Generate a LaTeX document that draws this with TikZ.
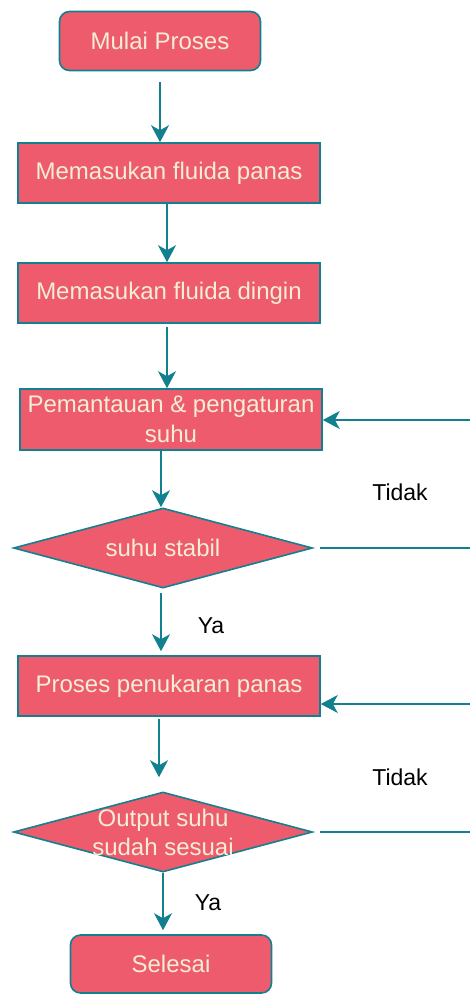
\documentclass[tikz,border=0pt]{standalone}
\usepackage{fontspec}
\setmainfont{Liberation Sans}
\usetikzlibrary{shapes.geometric,arrows.meta,calc}
\definecolor{boxfill}{HTML}{EE5B6D}
\definecolor{edgeteal}{HTML}{13808F}
\definecolor{boxtext}{HTML}{F4EED6}
\tikzset{
  proc/.style={draw=edgeteal, line width=1.6pt, fill=boxfill, text=boxtext,
    minimum width=302pt, minimum height=60pt, inner sep=0pt,
    font=\fontsize{24}{30}\selectfont, align=center},
  term/.style={proc, rounded corners=10pt, minimum width=201pt, minimum height=59pt},
  dec/.style={draw=edgeteal, line width=1.6pt, fill=boxfill, shape=diamond,
    minimum width=299pt, minimum height=80pt, inner sep=0pt},
  dectext/.style={text=boxtext, font=\fontsize{24}{29}\selectfont, align=center},
  conn/.style={draw=edgeteal, line width=1.6pt, -{Stealth[length=17pt,width=18pt,inset=5pt]}},
  plainline/.style={draw=edgeteal, line width=1.6pt},
  lbl/.style={font=\fontsize{23}{27}\selectfont, text=black, inner sep=0pt}
}
\begin{document}
\begin{tikzpicture}[x=1pt,y=-1pt]
\useasboundingbox[fill=white] (0,0) rectangle (470,994);

\node[term] (start) at (160,41) {Mulai Proses};
\node[proc] (panas) at (169,173) {Memasukan fluida panas};
\node[proc] (dingin) at (169,293) {Memasukan fluida dingin};
\node[proc, minimum height=61pt] (pantau) at (171,419.5) {Pemantauan \& pengaturan\\suhu};
\node[dec, label={[dectext]center:suhu stabil}] (d1) at (163,548) {};
\node[proc] (tukar) at (169,686) {Proses penukaran panas};
\node[dec, label={[dectext]center:Output suhu\\sudah sesuai}] (d2) at (163,832) {};
\node[term, minimum height=58pt] (end) at (171,964) {Selesai};

\coordinate (r1) at (472,420);
\coordinate (r2) at (472,548);
\coordinate (r3) at (472,704);
\coordinate (r4) at (472,832);

\node[lbl] (t1) at (400,492) {Tidak};
\node[lbl] (t2) at (400,777) {Tidak};
\node[lbl] (y1) at (211,626) {Ya};
\node[lbl] (y2) at (208,903) {Ya};

\draw[conn, shorten <=11pt] (start.south) -- (start.south |- panas.north);
\draw[conn] ([xshift=-2pt]panas.south) -- ([xshift=-2pt]panas.south |- dingin.north);
\draw[conn, shorten <=3pt] ([xshift=-2pt]dingin.south) -- ([xshift=-2pt]dingin.south |- pantau.north);
\draw[conn] ([xshift=-10pt]pantau.south) -- ([xshift=-2pt]d1.north);
\draw[conn, shorten <=4pt, shorten >=4pt] ([xshift=-2pt]d1.south) -- ([xshift=-2pt]d1.south |- tukar.north);
\draw[conn, shorten <=2pt, shorten >=14pt] ([xshift=-10pt]tukar.south) -- ([xshift=-4pt]d2.north);
\draw[conn, shorten >=4pt] (d2.south) -- (d2.south |- end.north);

\draw[conn] (r1) -- (pantau.east |- r1);
\draw[conn] (r3) -- (tukar.east |- r3);
\draw[plainline, shorten <=7pt] (d1.east) -- (r2);
\draw[plainline, shorten <=7pt] (d2.east) -- (r4);
\end{tikzpicture}
\end{document}
